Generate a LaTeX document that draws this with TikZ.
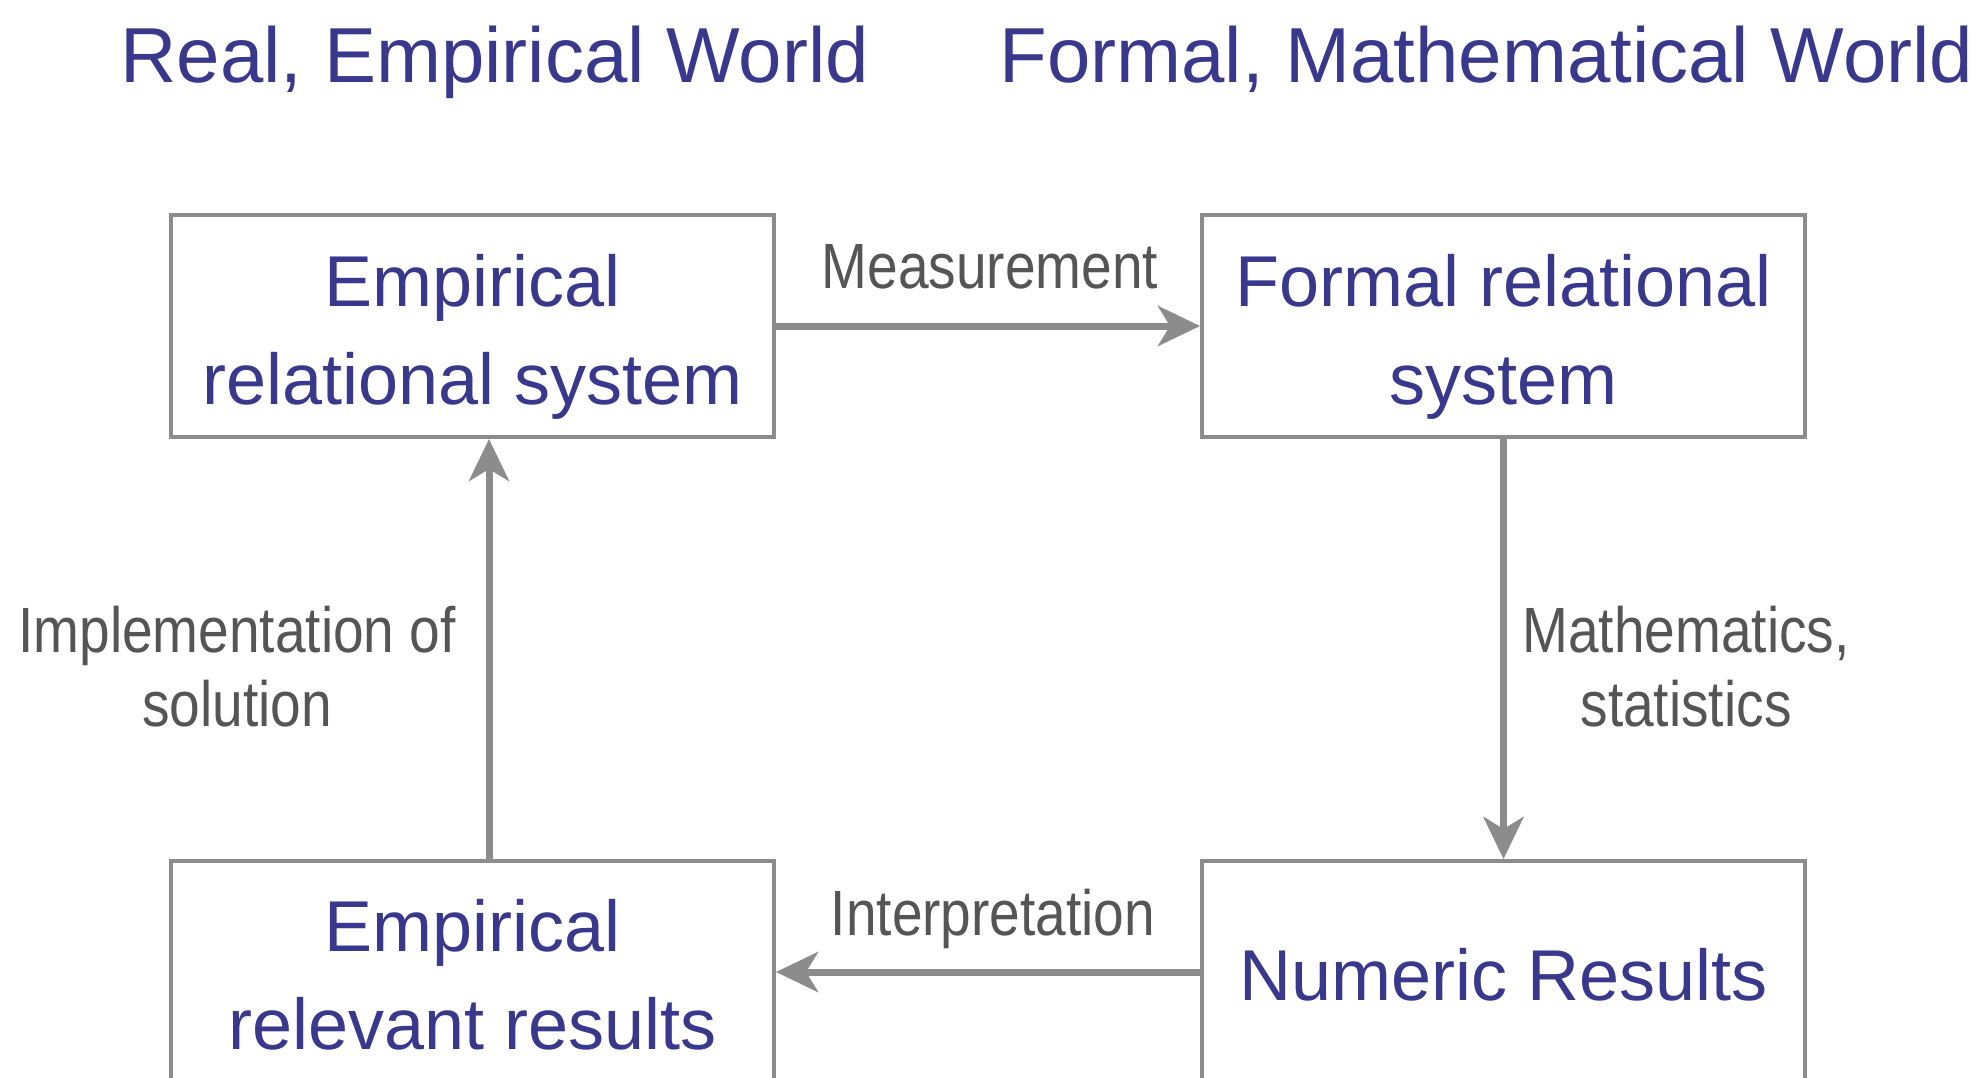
\documentclass[tikz,border=0pt]{standalone}
\usepackage{fontspec}
\setmainfont{Liberation Sans}
\newfontfamily\lblfont{Liberation Sans}[FakeStretch=0.86]
\usetikzlibrary{arrows.meta}
\definecolor{txtblue}{RGB}{56,56,140}
\definecolor{linegray}{RGB}{140,140,140}
\definecolor{lblgray}{RGB}{85,85,85}
\begin{document}
\begin{tikzpicture}[x=0.5pt,y=-0.5pt,
 box/.style={draw=linegray,line width=2pt,minimum width=301.5pt,minimum height=111pt,inner sep=0pt,align=center,text=txtblue,font=\fontsize{36}{49}\selectfont},
 arr/.style={draw=linegray,line width=3.5pt,-{Stealth[length=21pt,width=20pt,inset=6pt]}},
 lbl/.style={text=lblgray,font=\lblfont\fontsize{32}{37}\selectfont,inner sep=0pt,align=center},
 ttl/.style={text=txtblue,font=\fontsize{39}{45}\selectfont,inner sep=0pt,anchor=base west}]
\useasboundingbox (0,0) rectangle (1982,1077);
\clip (0,0) rectangle (1982,1077);
\fill[white] (0,0) rectangle (1982,1077);

\node[ttl] (t1) at (120,82) {Real, Empirical World};
\node[ttl] (t2) at (999,82) {Formal, Mathematical World};

\node[box] (el) at (472.5,326) {\rule{0pt}{36.5pt}Empirical\\relational system};
\node[box] (fr) at (1503.5,326) {\rule{0pt}{36.5pt}Formal relational\\system};
\node[box] (er) at (472.5,972) {\rule{0pt}{29pt}Empirical\\relevant results};
\node[box] (nr) at (1503.5,972) {\rule{0pt}{28.5pt}Numeric Results};

\draw[arr] (el) -- (fr);
\draw[arr] (fr) -- (nr);
\draw[arr] (nr) -- (er);
\draw[arr] ([xshift=8.25pt]er.north) -- ([xshift=8.25pt]el.south);

\node[lbl,anchor=base] (lm) at (990,288) {Measurement};
\node[lbl,anchor=base] (li) at (993,935) {Interpretation};
\node[lbl] (lim) at (237,667) {Implementation of\\solution};
\node[lbl] (lma) at (1686,667) {Mathematics,\\statistics};
\end{tikzpicture}
\end{document}
